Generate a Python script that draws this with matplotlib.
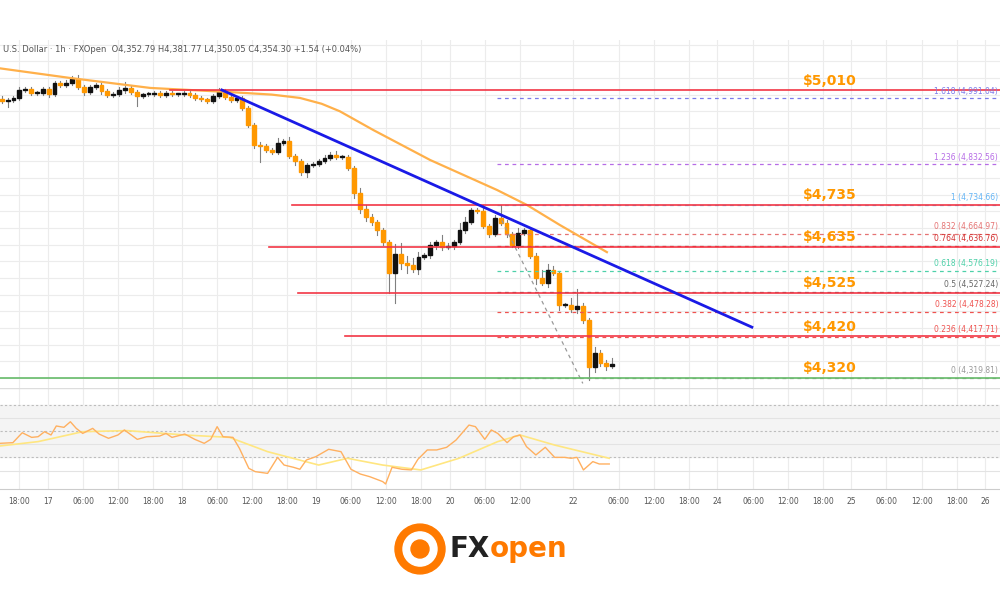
import matplotlib.pyplot as plt
from matplotlib.patches import Rectangle, Ellipse

# hourly candles (close, upper wick, lower wick), open = previous close
closes = [4985, 4987, 4992, 5011, 5013, 5004, 5004, 5013, 5001, 5028, 5023, 5028, 5037, 5018,
          5006, 5018, 5023, 5009, 4999, 5001, 5011, 5016, 5006, 4997, 5001, 5001, 5004, 4999,
          5004, 5001, 5001, 5004, 4999, 4992, 4989, 4985, 4997, 5009, 4994, 4987, 4992, 4968, 4927,
          4879, 4877, 4867, 4862, 4884, 4889, 4853, 4841, 4814, 4831, 4833, 4841, 4848, 4855,
          4850, 4850, 4824, 4764, 4725, 4706, 4694, 4675, 4646, 4572, 4617, 4596, 4591, 4581,
          4610, 4615, 4639,
          4646, 4634, 4637, 4646, 4675, 4694, 4723, 4721, 4685, 4665, 4704, 4692, 4665, 4639,
          4668, 4675, 4613, 4560, 4548, 4579, 4572, 4495, 4495, 4485, 4493, 4459, 4346, 4380,
          4356, 4349, 4354]
wick_up = [6, 5, 4, 8, 6, 5, 4, 6, 5, 4, 5, 6, 8, 10, 4, 5, 6, 5, 4, 5, 8, 14, 4, 5, 4, 5, 4,
           4, 5, 4, 4, 5, 4, 6, 4, 4, 5, 6, 4, 5, 5, 4, 4,
           5, 8, 4, 4, 12, 5, 10, 4, 4, 5, 6, 4, 6, 8, 10, 6, 4, 5, 12, 10, 8, 6, 6, 4, 24,
           26, 16, 18, 12, 6, 8,
           6, 16, 8, 6, 16, 12, 5, 6, 14, 5, 6, 30, 6, 5, 12, 6, 4, 6, 20, 14, 10, 5, 6, 16, 40,
           8, 4, 14, 6, 8, 14]
wick_dn = [5, 14, 4, 5, 4, 6, 5, 4, 6, 5, 4, 5, 4, 5, 6, 5, 4, 8, 5, 4, 5, 6, 5, 24, 4, 5, 4,
           5, 4, 4, 5, 4, 5, 4, 4, 5, 4, 5, 4, 5, 4, 6, 5,
           8, 38, 5, 4, 5, 4, 5, 10, 6, 12, 5, 4, 4, 5, 4, 4, 6, 12, 8, 10, 8, 12, 6, 48, 72,
           14, 18, 6, 12, 5, 6,
           10, 6, 5, 8, 4, 6, 5, 6, 4, 6, 5, 4, 6, 5, 6, 4, 6, 14, 5, 10, 6, 12, 5, 6, 8, 6, 30,
           12, 8, 10, 6]
open_first = 4990

# moving average
ma_x = [-0.3, 11.6, 25.3, 38.9, 46.0, 50.8, 54.5, 57.6, 63.3, 73.0, 84.4, 89.5, 95.1, 103.1]
ma_y = [5063, 5040, 5016, 5006, 5000, 4992, 4978, 4960, 4915, 4843, 4771, 4735, 4687, 4622]

# blue trendline
trend_x = [37.5, 127.8]
trend_y = [5011, 4442]

# support / resistance
levels = [5010, 4735, 4635, 4525, 4420]
level_start = [170, 292, 269, 298, 345]   # pixel x where line starts
support = 4320

# fibonacci
fib_ratio = ['1.618', '1.236', '1', '0.832', '0.764', '0.618', '0.5', '0.382', '0.236', '0']
fib_price = [4991.04, 4832.56, 4734.66, 4664.97, 4636.76, 4576.19, 4527.24, 4478.28, 4417.71, 4319.81]
fib_col = ['#7b7bea', '#b66ce6', '#64b5f6', '#e57373', '#d32f2f', '#4dd0a8', '#666666',
           '#ef5350', '#ef5350', '#999999']

# oscillator
osc_x = [-0.3, 1.9, 3.5, 5.1, 6.2, 7.3, 8.4, 9.3, 10.6, 11.7, 12.7, 13.8, 15.5, 16.6, 18.2, 19.8,
         20.9, 23.1, 24.7, 26.9, 28.0, 29.0, 31.2, 32.9, 34.5, 35.6, 36.7, 37.7, 39.4, 40.5, 42.1,
         43.2, 45.3, 47.0, 48.1, 49.7, 50.8, 51.9, 53.5, 55.7, 57.8, 59.5, 61.1, 62.7, 64.9, 65.4,
         66.5, 68.2, 69.8, 70.9, 72.5, 74.1, 75.8, 77.4, 79.6, 80.7, 82.3, 83.4, 84.5, 86.1, 87.2,
         88.3, 89.4, 91.0, 92.6, 94.2, 95.9, 97.0, 98.0, 99.1, 100.7, 101.8, 103.5]
osc_y = [40.7, 41.2, 48.7, 45.2, 45.7, 49.5, 47, 53.8, 52.8, 57, 52, 48.2, 52, 47.7, 44.5, 47,
         50.8, 43.7, 45.7, 46.2, 48.2, 45.2, 47.7, 43.7, 40.7, 43.7, 53.3, 45.7, 45.2, 36.9, 21.8,
         19.3, 18, 30.1, 24.3, 22.6, 21.1, 28.1, 30.6, 36.2, 34.4, 21.1, 17.5, 15.5, 11.8, 10,
         22.6, 21.1, 20.6, 28.6, 35.7, 35.7, 37.7, 43.2, 54.5, 53.3, 43.7, 50.8, 48.2, 41.2, 45.7,
         47, 38.2, 31.9, 37.7, 30.1, 30.1, 29.4, 30.1, 20.6, 26.9, 25.1, 25.1]
sig_x = [-0.3, 6.2, 13.8, 21.4, 31.2, 38.8, 45.3, 54.0, 58.9, 64.9, 71.4, 77.9, 84.5, 88.3, 94.2, 103.5]
sig_y = [38.7, 42, 49.5, 50.3, 47, 45.2, 34.4, 24.3, 29.4, 24.3, 20.6, 29.4, 42, 47, 39.4, 29.4]

tick_pos = [2.95, 7.89, 13.85, 19.81, 25.77, 30.72, 36.68, 42.64, 48.6, 53.54, 59.5, 65.47, 71.43,
            76.37, 82.33, 88.29, 97.32, 105.16, 111.12, 117.08, 121.86, 128.0, 133.95, 139.91,
            144.68, 150.65, 156.78, 162.74, 167.51]
tick_lab = ['18:00', '17', '06:00', '12:00', '18:00', '18', '06:00', '12:00', '18:00', '19',
            '06:00', '12:00', '18:00', '20', '06:00', '12:00', '22', '06:00', '12:00', '18:00',
            '24', '06:00', '12:00', '18:00', '25', '06:00', '12:00', '18:00', '26']

PX = 5.87
XMIN, XMAX = -0.29, 1000 / PX - 0.29

fig = plt.figure(figsize=(10, 6), dpi=100)
fig.patch.set_facecolor('white')
ax = fig.add_axes([0, 1 - 388 / 600, 1, 348 / 600])
osc = fig.add_axes([0, 1 - 489 / 600, 1, 101 / 600])

for a in (ax, osc):
    a.set_xlim(XMIN, XMAX)
    for s in a.spines.values():
        s.set_visible(False)
    a.set_yticks([])
    for t in tick_pos:
        a.axvline(t, color='#ececec', lw=0.8, zorder=0)

ax.set_ylim(4296, 5131)
for g in range(4320, 5131, 40):
    ax.axhline(g, color='#ececec', lw=0.8, zorder=0)
ax.set_xticks([])

# candles
prev = open_first
for i, c in enumerate(closes):
    o = prev
    hi = max(o, c) + wick_up[i]
    lo = min(o, c) - wick_dn[i]
    col = '#111111' if c >= o else '#ff9800'
    ax.plot([i, i], [lo, hi], color='#808080', lw=0.8, zorder=3)
    h = max(abs(c - o), 2)
    ax.add_patch(Rectangle((i - 0.33, min(o, c)), 0.66, h, color=col, zorder=4))
    prev = c

ax.plot(ma_x, ma_y, color='#ffb04a', lw=1.6, zorder=5)
ax.plot(trend_x, trend_y, color='#1a1ae6', lw=2, zorder=6)

for lv, st in zip(levels, level_start):
    ax.plot([st / PX - 0.29, XMAX], [lv, lv], color='#f23645', lw=1.2, zorder=5)
ax.axhline(support, color='#66bb6a', lw=1.2, zorder=5)
for lv in levels + [support]:
    ax.annotate(f'${lv:,}', (828 / PX, lv), xytext=(0, 2), textcoords='offset points',
                ha='center', va='bottom', color='#ff9800', fontsize=10, fontweight='bold', zorder=7)

fx0 = 497 / PX - 0.29
for r, p, col in zip(fib_ratio, fib_price, fib_col):
    ax.plot([fx0, XMAX], [p, p], color=col, lw=0.9, ls=(0, (3, 3)), zorder=4)
    ax.annotate(f'{r} ({p:,.2f})', (XMAX - 0.3, p), xytext=(0, 2), textcoords='offset points',
                ha='right', va='bottom', color=col, fontsize=5.5, zorder=7)

ax.plot([85.2, 99.0], [4698, 4307], color='#999999', lw=0.9, ls=(0, (3, 3)), zorder=4)
ax.scatter([103.1], [4276], s=60, facecolor='white', edgecolor='#b040d0', lw=1, clip_on=False, zorder=8)
ax.text(103.1, 4276, '⚡', color='#b040d0', fontsize=5, ha='center', va='center', clip_on=False, zorder=9)

ax.text(0.003, 0.985, 'U.S. Dollar · 1h · FXOpen  O4,352.79 H4,381.77 L4,350.05 C4,354.30 +1.54 (+0.04%)',
        transform=ax.transAxes, fontsize=6, color='#555555', va='top', ha='left')

# oscillator panel
osc.set_ylim(6.2, 82.5)
osc.axhspan(30, 70, color='#f4f4f4', zorder=0)
for lv in (70, 50, 30):
    osc.axhline(lv, color='#bdbdbd', lw=0.8, ls=(0, (2, 2)), zorder=1)
for lv in (60, 40, 20):
    osc.axhline(lv, color='#e3e3e3', lw=0.8, zorder=1)
osc.plot(sig_x, sig_y, color='#ffe680', lw=1.2, zorder=3)
osc.plot(osc_x, osc_y, color='#ffb060', lw=1, zorder=4)
osc.axhline(82.5, color='#dddddd', lw=1)
osc.spines['bottom'].set_visible(True)
osc.spines['bottom'].set_color('#cccccc')
osc.set_xticks(tick_pos)
osc.set_xticklabels(tick_lab, fontsize=5.5, color='#555555')
osc.tick_params(axis='x', length=0, pad=6)

# logo
fig.text(0.49, 0.085, 'FX', fontsize=20, fontweight='bold', color='#222222', ha='right', va='center')
fig.text(0.49, 0.085, 'open', fontsize=20, fontweight='bold', color='#ff7a00', ha='left', va='center')
fig.patches.append(Ellipse((0.42, 0.085), 0.05, 0.083, transform=fig.transFigure, color='#ff7a00'))
fig.patches.append(Ellipse((0.42, 0.085), 0.034, 0.057, transform=fig.transFigure, color='white'))
fig.patches.append(Ellipse((0.42, 0.085), 0.018, 0.03, transform=fig.transFigure, color='#ff7a00'))

fig.savefig('out.png', dpi=100)
